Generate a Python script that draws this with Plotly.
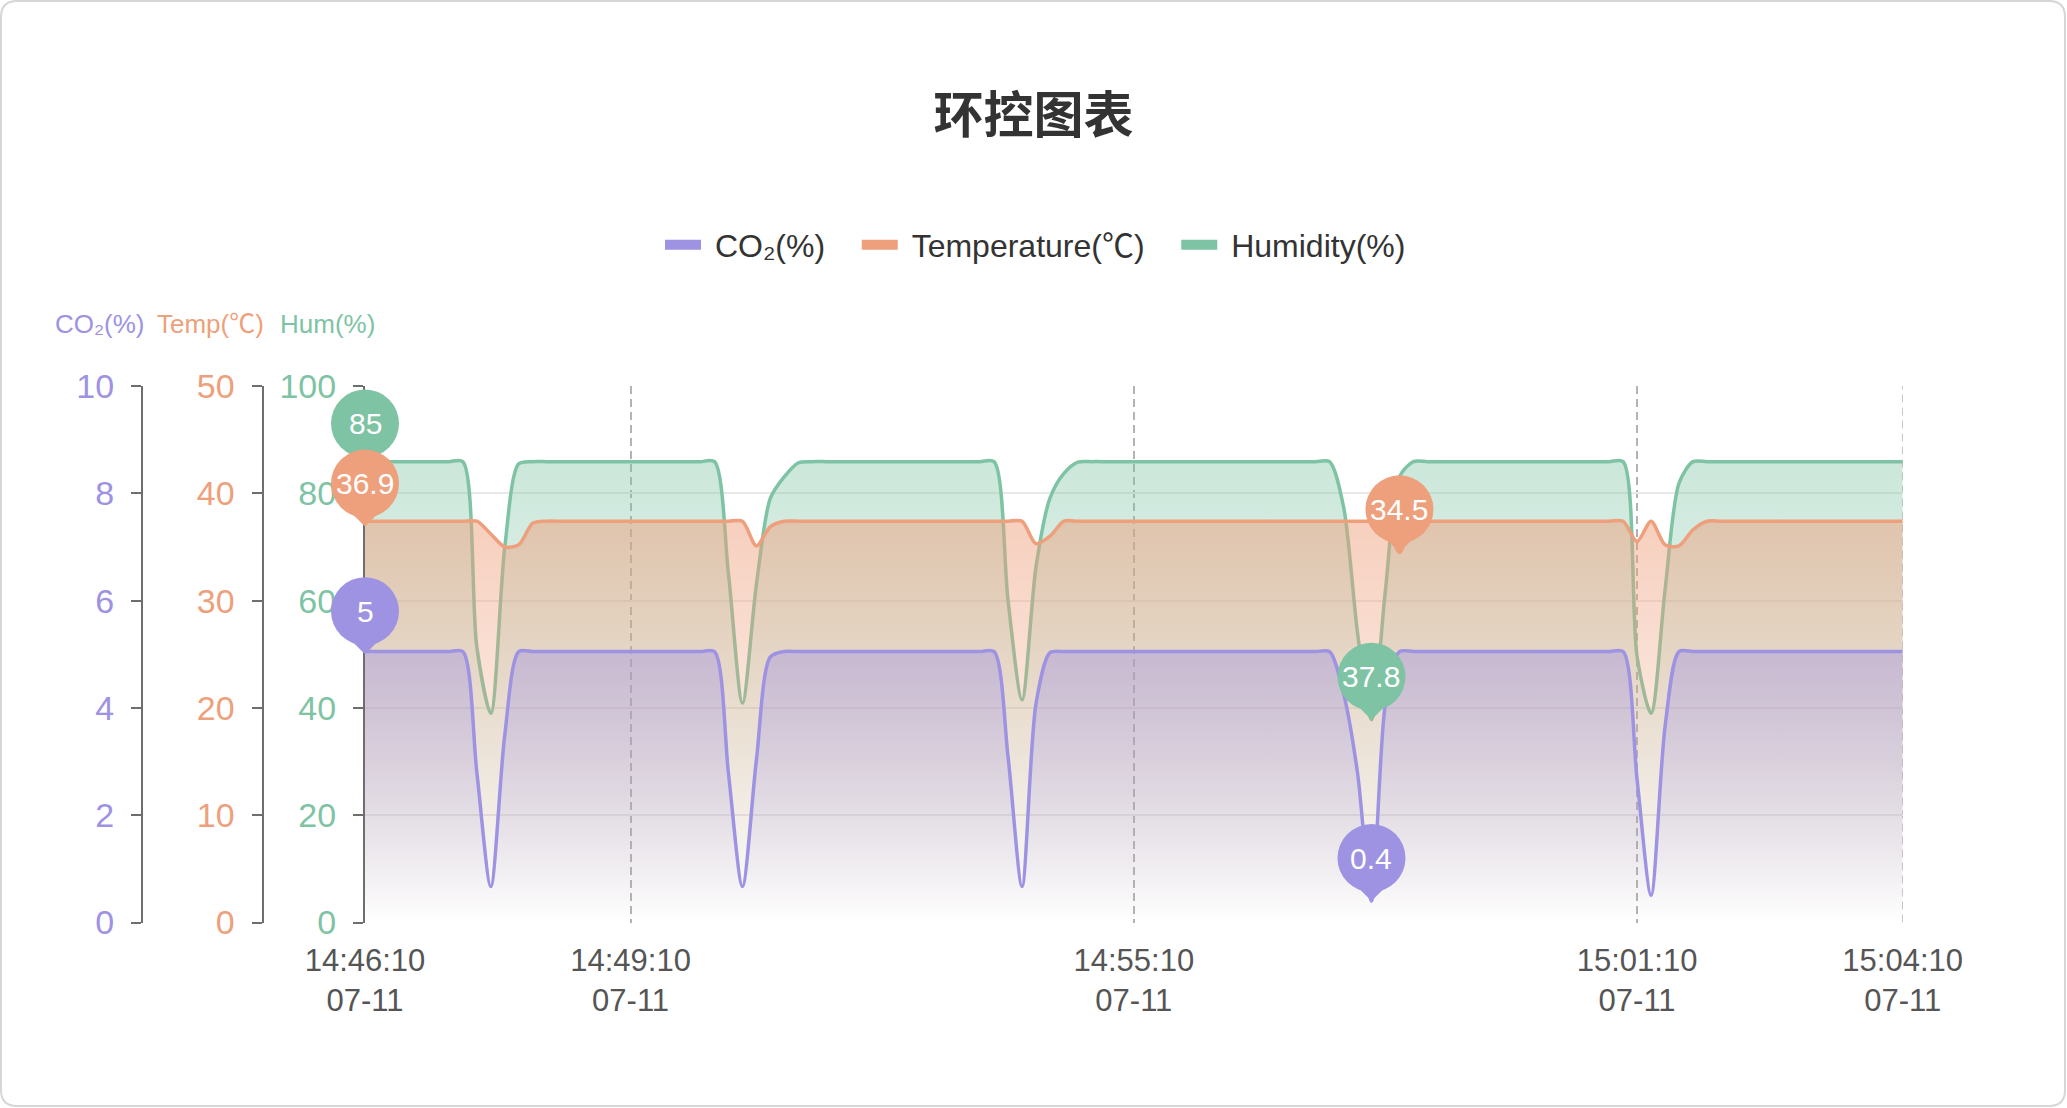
import pandas as pd
import plotly.graph_objects as go

# x categories: one sample every 10 s, plus two irregular samples
date_label = "07-11"
times = [t.strftime("%H:%M:%S") for t in
         pd.date_range("2024-07-11 14:46:10", "2024-07-11 15:04:10", freq="10s")]
extra_times = ["14:47:45", "15:02:45"]
times = sorted(times + extra_times)
tick_times = ["14:46:10", "14:49:10", "14:55:10", "15:01:10", "15:04:10"]

co2 = [5.05, 5.05, 5.05, 5.05, 5.05, 5.05, 5.05, 5.05, 2.8, 0.67,
       3.5, 5.05, 5.05, 5.05, 5.05, 5.05, 5.05, 5.05, 5.05, 5.05,
       5.05, 5.05, 5.05, 5.05, 5.05, 5.05, 2.78, 0.67, 3.03, 4.95,
       5.05, 5.05, 5.05, 5.05, 5.05, 5.05, 5.05, 5.05, 5.05, 5.05,
       5.05, 5.05, 5.05, 5.05, 5.05, 5.05, 3.09, 0.67, 4.08, 5.03,
       5.05, 5.05, 5.05, 5.05, 5.05, 5.05, 5.05, 5.05, 5.05, 5.05,
       5.05, 5.05, 5.05, 5.05, 5.05, 5.05, 5.05, 5.05, 5.05, 5.05,
       4.27, 2.79, 0.4, 4.09, 5.05, 5.05, 5.05, 5.05, 5.05, 5.05,
       5.05, 5.05, 5.05, 5.05, 5.05, 5.05, 5.05, 5.05, 5.05, 5.05,
       5.05, 2.66, 0.51, 3.65, 5.05, 5.05, 5.05, 5.05, 5.05, 5.05,
       5.05, 5.05, 5.05, 5.05, 5.05, 5.05, 5.05, 5.05, 5.05, 5.05, 5.05]

temperature = [37.4, 37.4, 37.4, 37.4, 37.4, 37.4, 37.4, 37.4, 37.4, 36.2,
               35.0, 35.2, 37.2, 37.4, 37.4, 37.4, 37.4, 37.4, 37.4, 37.4,
               37.4, 37.4, 37.4, 37.4, 37.4, 37.4, 37.4, 37.4, 35.1, 36.9,
               37.4, 37.4, 37.4, 37.4, 37.4, 37.4, 37.4, 37.4, 37.4, 37.4,
               37.4, 37.4, 37.4, 37.4, 37.4, 37.4, 37.4, 37.4, 35.3, 36.0,
               37.4, 37.4, 37.4, 37.4, 37.4, 37.4, 37.4, 37.4, 37.4, 37.4,
               37.4, 37.4, 37.4, 37.4, 37.4, 37.4, 37.4, 37.4, 37.4, 37.4,
               37.4, 37.4, 37.4, 37.4, 34.5, 37.4, 37.4, 37.4, 37.4, 37.4,
               37.4, 37.4, 37.4, 37.4, 37.4, 37.4, 37.4, 37.4, 37.4, 37.4,
               37.4, 35.5, 37.4, 35.2, 35.1, 36.6, 37.4, 37.4, 37.4, 37.4,
               37.4, 37.4, 37.4, 37.4, 37.4, 37.4, 37.4, 37.4, 37.4, 37.4, 37.4]

humidity = [85.9, 85.9, 85.9, 85.9, 85.9, 85.9, 85.9, 85.9, 51.3, 39.0,
            70.0, 85.5, 85.9, 85.9, 85.9, 85.9, 85.9, 85.9, 85.9, 85.9,
            85.9, 85.9, 85.9, 85.9, 85.9, 85.9, 65.0, 40.9, 63.0, 79.1,
            83.1, 85.7, 85.9, 85.9, 85.9, 85.9, 85.9, 85.9, 85.9, 85.9,
            85.9, 85.9, 85.9, 85.9, 85.9, 85.9, 60.0, 41.5, 66.3, 79.1,
            83.7, 85.8, 85.9, 85.9, 85.9, 85.9, 85.9, 85.9, 85.9, 85.9,
            85.9, 85.9, 85.9, 85.9, 85.9, 85.9, 85.9, 85.9, 85.9, 85.9,
            77.5, 54.0, 37.8, 62.0, 83.1, 85.9, 85.9, 85.9, 85.9, 85.9,
            85.9, 85.9, 85.9, 85.9, 85.9, 85.9, 85.9, 85.9, 85.9, 85.9,
            85.9, 49.5, 39.0, 62.0, 81.9, 85.9, 85.9, 85.9, 85.9, 85.9,
            85.9, 85.9, 85.9, 85.9, 85.9, 85.9, 85.9, 85.9, 85.9, 85.9, 85.9]

# values shown on the max / min pins
co2_marks = ["5", "0.4"]
temp_marks = ["36.9", "34.5"]
hum_marks = ["85", "37.8"]

C_CO2 = (158, 146, 227)
C_TEMP = (238, 159, 124)
C_HUM = (126, 195, 163)

W, H = 2067, 1108
FONT = "Liberation Sans, Noto Sans CJK SC, sans-serif"
x_dom = [365 / W, 1902.7 / W]
y_dom = [1 - 922.5 / H, 1 - 386 / H]
NB = "\u00a0"


def rgba(c, a=1.0):
    return f"rgba({c[0]},{c[1]},{c[2]},{a})"


def area(y, color, axis, alpha):
    return go.Scatter(
        x=times, y=y, yaxis=axis, mode="lines",
        line=dict(color=rgba(color), width=3.5, shape="spline", smoothing=0.8),
        fill="tozeroy",
        fillgradient=dict(type="vertical", start=0, stop=max(y),
                          colorscale=[[0, rgba(color, 0)], [1, rgba(color, alpha)]]),
        showlegend=False, hoverinfo="skip")


fig = go.Figure()
# draw order: humidity at the bottom, co2 on top
fig.add_trace(area(humidity, C_HUM, "y", 0.4))
fig.add_trace(area(temperature, C_TEMP, "y2", 0.5))
fig.add_trace(area(co2, C_CO2, "y3", 0.42))

annotations = []
pin_sets = [(humidity, hum_marks, C_HUM, "y4"),
            (temperature, temp_marks, C_TEMP, "y5"),
            (co2, co2_marks, C_CO2, "y6")]
for vals, marks, color, axis in pin_sets:
    imax = max(range(len(vals)), key=lambda i: vals[i])
    imin = min(range(len(vals)), key=lambda i: vals[i])
    px = [times[imax], times[imin]]
    py = [float(m) for m in marks]
    fig.add_trace(go.Scatter(x=px, y=py, yaxis=axis, mode="markers", cliponaxis=False,
                             marker=dict(symbol="diamond", size=40, color=rgba(color),
                                         angle=180, standoff=26, line=dict(width=0)),
                             showlegend=False, hoverinfo="skip"))
    fig.add_trace(go.Scatter(x=px, y=py, yaxis=axis, mode="markers", cliponaxis=False,
                             marker=dict(symbol="circle", size=68, color=rgba(color),
                                         angle=180, standoff=43, line=dict(width=0)),
                             showlegend=False, hoverinfo="skip"))
    for xx, yy, txt in zip(px, py, marks):
        annotations.append(dict(x=xx, y=yy, xref="x", yref=axis, text=txt, showarrow=False,
                                yshift=43, xanchor="center", yanchor="middle",
                                font=dict(family=FONT, size=30, color="white")))

# legend entries (no-break spaces give the gaps around the text)
for name, color, rank in [("CO₂(%)", C_CO2, 1), ("Temperature(℃)", C_TEMP, 2),
                          ("Humidity(%)", C_HUM, 3)]:
    fig.add_trace(go.Scatter(x=[None], y=[None], mode="lines", name=NB + name + NB * 3,
                             legendrank=rank, line=dict(color=rgba(color), width=10)))

# axis names on top of the y axes
for txt, cx, color in [("CO₂(%)", 100, C_CO2), ("Temp(℃)", 210, C_TEMP), ("Hum(%)", 327, C_HUM)]:
    annotations.append(dict(x=cx / W, y=1 - 324 / H, xref="paper", yref="paper", text=txt,
                            showarrow=False, xanchor="center", yanchor="middle",
                            font=dict(family=FONT, size=26, color=rgba(color))))

axis_common = dict(showline=True, linecolor="#6e6e6e", linewidth=2, ticks="outside",
                   ticklen=10, tickwidth=2, tickcolor="#6e6e6e", ticklabelstandoff=10,
                   zeroline=False, fixedrange=True, automargin=False)

fig.update_layout(
    width=W, height=H, autosize=False,
    margin=dict(l=0, r=0, t=0, b=0, pad=0, autoexpand=False),
    paper_bgcolor="white", plot_bgcolor="white",
    title=dict(text="<b>环控图表</b>", x=0.5, xanchor="center", y=1 - 115 / H,
               yanchor="middle", font=dict(family="Noto Sans CJK SC", size=50, color="#333333")),
    legend=dict(orientation="h", x=1049 / W, xanchor="center", y=1 - 245 / H, yanchor="middle",
                font=dict(family=FONT, size=32, color="#333333"), itemwidth=36,
                bgcolor="rgba(0,0,0,0)"),
    xaxis=dict(domain=x_dom, type="category", range=[0, len(times) - 1],
               tickvals=tick_times, ticktext=[f"{t}<br>{date_label}" for t in tick_times],
               showgrid=True, gridcolor="#b3b3b3", gridwidth=1.5, griddash="8px,5px",
               ticks="", showline=False, zeroline=False, fixedrange=True, automargin=False,
               ticklabelstandoff=16,
               tickfont=dict(family=FONT, size=31, color="#555555")),
    yaxis=dict(domain=y_dom, range=[0, 100], dtick=20, side="left", anchor="x",
               showgrid=True, gridcolor="#e9e9e9", gridwidth=1.5, layer="below traces",
               tickfont=dict(family=FONT, size=34, color=rgba(C_HUM)), **axis_common),
    yaxis2=dict(range=[0, 50], dtick=10, overlaying="y", side="left", anchor="free",
                position=262.5 / W, showgrid=False,
                tickfont=dict(family=FONT, size=34, color=rgba(C_TEMP)), **axis_common),
    yaxis3=dict(range=[0, 10], dtick=2, overlaying="y", side="left", anchor="free",
                position=142 / W, showgrid=False,
                tickfont=dict(family=FONT, size=34, color=rgba(C_CO2)), **axis_common),
    yaxis4=dict(range=[0, 100], overlaying="y", visible=False, fixedrange=True),
    yaxis5=dict(range=[0, 50], overlaying="y", visible=False, fixedrange=True),
    yaxis6=dict(range=[0, 10], overlaying="y", visible=False, fixedrange=True),
    annotations=annotations,
)

# dashed split line at the last category (plotly skips grid lines on the plot edge)
fig.add_shape(type="line", xref="x", yref="y domain", x0=tick_times[-1], x1=tick_times[-1],
              y0=0, y1=1, line=dict(color="#b3b3b3", width=1.5, dash="8px,5px"), layer="below")

# card frame with rounded corners
x0, x1 = 1 / W, 2065 / W
yb, yt = 1 - 1106 / H, 1 - 1 / H
rx, ry = 16 / W, 16 / H
frame = (f"M {x0 + rx},{yt} L {x1 - rx},{yt} Q {x1},{yt} {x1},{yt - ry} "
         f"L {x1},{yb + ry} Q {x1},{yb} {x1 - rx},{yb} L {x0 + rx},{yb} "
         f"Q {x0},{yb} {x0},{yb + ry} L {x0},{yt - ry} Q {x0},{yt} {x0 + rx},{yt} Z")
fig.add_shape(type="path", path=frame, xref="paper", yref="paper",
              line=dict(color="#d6d6d6", width=2), layer="below")

fig.write_html("out.html", config={"displayModeBar": False},
               post_script="document.body.style.margin='0';")
